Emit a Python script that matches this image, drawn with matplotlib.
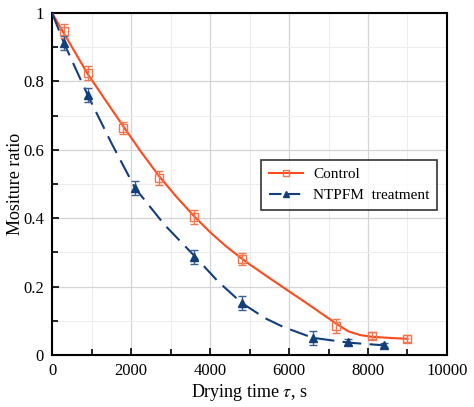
import matplotlib
matplotlib.use("Agg")
import matplotlib.pyplot as plt
from matplotlib.ticker import MultipleLocator, FixedLocator, FixedFormatter

plt.rcParams["font.family"] = ["Liberation Serif", "DejaVu Serif"]
plt.rcParams["mathtext.fontset"] = "stix"

# measured points (s, moisture ratio)
control_t = [300, 900, 1800, 2700, 3600, 4800, 7200, 8100, 9000]
control_mr = [0.947, 0.825, 0.663, 0.517, 0.404, 0.280, 0.085, 0.056, 0.047]
control_err = [0.02, 0.02, 0.018, 0.02, 0.02, 0.018, 0.02, 0.01, 0.01]

ntpfm_t = [300, 900, 2100, 3600, 4800, 6600, 7500, 8400]
ntpfm_mr = [0.912, 0.760, 0.488, 0.287, 0.152, 0.050, 0.038, 0.029]
ntpfm_err = [0.02, 0.02, 0.02, 0.02, 0.02, 0.02, 0.008, 0.006]

# fitted curves
control_fit_t = [0, 300, 900, 1350, 1800, 2250, 2700, 3150, 3600, 4000,
                 4400, 4800, 5000, 5500, 6000, 6500, 7000, 7200, 7500,
                 7800, 8100, 8500, 9000]
control_fit_mr = [1.0, 0.94, 0.822, 0.745, 0.669, 0.594, 0.524, 0.462, 0.405,
                  0.359, 0.318, 0.282, 0.265, 0.225, 0.186, 0.147, 0.107,
                  0.091, 0.069, 0.058, 0.053, 0.050, 0.047]

ntpfm_fit_t = [0, 300, 900, 1500, 2100, 2850, 3600, 4200, 4800, 5400,
               5850, 6600, 7500, 8400]
ntpfm_fit_mr = [1.0, 0.912, 0.760, 0.620, 0.488, 0.380, 0.290, 0.215,
                0.152, 0.107, 0.082, 0.050, 0.036, 0.028]

c_ctrl = "#ff4a1c"
c_ctrl_mk = "#f2764f"
c_ntp = "#123f7c"

fig = plt.figure(figsize=(4.74, 4.07), dpi=100)
ax = fig.add_axes([0.110, 0.128, 0.833, 0.840])

ax.plot(control_fit_t, control_fit_mr, "-", color=c_ctrl, lw=1.5, zorder=3)
ax.errorbar(control_t, control_mr, yerr=control_err, fmt="s", mfc="none",
            mec=c_ctrl_mk, ms=6, mew=1.0, ecolor=c_ctrl_mk, elinewidth=1.0,
            capsize=3, zorder=4)

ax.plot(ntpfm_fit_t, ntpfm_fit_mr, "-", color=c_ntp, lw=1.5,
        dashes=(9, 4), zorder=3)
ax.errorbar(ntpfm_t, ntpfm_mr, yerr=ntpfm_err, fmt="^", color=c_ntp,
            ms=6, ecolor="#3d5f93", elinewidth=1.0, capsize=3, zorder=4)

# legend proxies
ax.plot([], [], "-s", color=c_ctrl, mfc="none", mec=c_ctrl_mk, ms=5,
        lw=1.5, label="Control")
ax.plot([], [], "^", color=c_ntp, ls=(0, (6, 3)), ms=5, lw=1.5,
        label="NTPFM  treatment")
handles, labels = ax.get_legend_handles_labels()
leg = ax.legend(handles, labels, loc="upper left", bbox_to_anchor=(0.53, 0.57),
                fontsize=11, frameon=True, fancybox=False, edgecolor="black",
                handlelength=2.2, handletextpad=0.7, borderpad=0.5,
                labelspacing=0.45, borderaxespad=0)
leg.get_frame().set_linewidth(1.2)

ax.set_xlim(0, 10000)
ax.set_ylim(0, 1)
ax.xaxis.set_major_locator(MultipleLocator(2000))
ax.xaxis.set_minor_locator(MultipleLocator(1000))
ax.yaxis.set_major_locator(FixedLocator([0, 0.2, 0.4, 0.6, 0.8, 1.0]))
ax.yaxis.set_major_formatter(FixedFormatter(["0", "0.2", "0.4", "0.6", "0.8", "1"]))
ax.yaxis.set_minor_locator(MultipleLocator(0.1))

ax.grid(which="major", color="#d4d4d4", lw=0.9)
ax.grid(which="minor", color="#ececec", lw=0.7)
ax.set_axisbelow(True)

ax.tick_params(which="both", direction="in", top=False, right=False,
               labelsize=12, width=1.2)
ax.tick_params(which="major", length=5, pad=6)
ax.tick_params(which="minor", length=4)
for s in ax.spines.values():
    s.set_linewidth(1.5)

ax.set_xlabel(r"Drying time $\tau$, s", fontsize=13, labelpad=2)
ax.set_ylabel("Mositure ratio", fontsize=13)
ax.yaxis.set_label_coords(-0.072, 0.5)

fig.savefig("out.png", dpi=100)
